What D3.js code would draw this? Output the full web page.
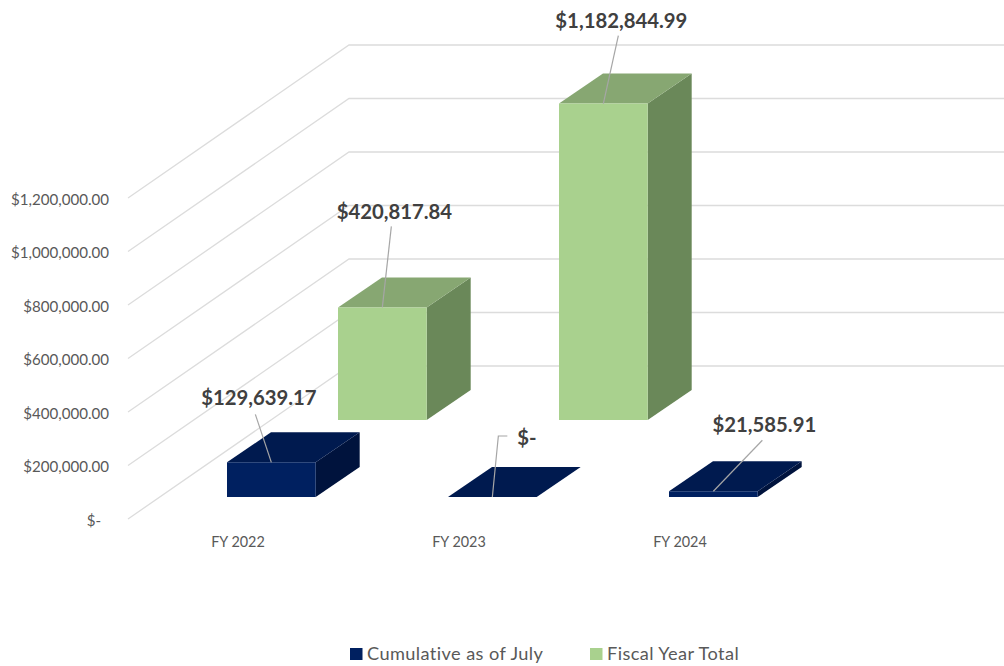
<!DOCTYPE html>
<html><head><meta charset="utf-8">
<script src="https://cdn.jsdelivr.net/npm/d3@7"></script>
<style>html,body{margin:0;padding:0;background:#fff}svg{display:block}text{font-family:Lato,"Open Sans",sans-serif}</style>
</head><body><svg id="c" width="1004" height="666"></svg>
<script>
const categories = ["FY 2022","FY 2023","FY 2024"];
const cumulativeJuly = [129639.17, 0, 21585.91];
const fiscalYearTotal = [420817.84, 1182844.99, null];
const yTicks = [0,200000,400000,600000,800000,1000000,1200000];
const cumulativeLabels = ["$129,639.17","$-","$21,585.91"];
const fiscalLabels = ["$420,817.84","$1,182,844.99",null];
const seriesNames = ["Cumulative as of July","Fiscal Year Total"];

const svg = d3.select("#c");
const y = d3.scaleLinear().domain([0,1200000]).range([519,198]);
const x = d3.scalePoint().domain(categories).range([227,669]);
const wall = {dx:221, dy:-153, right:1004};
const depth = {dx:44, dy:-30};
const barW = 88.7;
const rows = [
  {name:seriesNames[0], values:cumulativeJuly, labels:cumulativeLabels, xOff:0, base:497,
   front:"#002060", top:"#001A4F", side:"#00133D"},
  {name:seriesNames[1], values:fiscalYearTotal, labels:fiscalLabels, xOff:111, base:420,
   front:"#A9D18E", top:"#87A772", side:"#6A8859"}
];

// wall gridlines
const line = d3.line();
svg.append("g").selectAll("path").data(yTicks).join("path")
  .attr("fill","none").attr("stroke","#dcdcdc").attr("stroke-width",1.3)
  .attr("d",t=>line([[128,y(t)],[128+wall.dx,y(t)+wall.dy],[wall.right,y(t)+wall.dy]]));

// value axis
const fmtTick = t => t===0 ? "$-" : "$"+d3.format(",.2f")(t);
const axis = d3.axisLeft(y).tickValues(yTicks).tickFormat(fmtTick).tickSize(0).tickPadding(0);
const ag = svg.append("g").attr("transform","translate(109,0)").call(axis);
ag.select(".domain").remove();
ag.selectAll("text").attr("font-size",15.1).attr("font-family",'Lato,sans-serif').attr("fill","#595959")
  .attr("dx",t=>t===0?-8:0).attr("dy",".42em");

// category labels
svg.append("g").selectAll("text").data(categories).join("text")
  .attr("x",d=>x(d)+11).attr("y",547).attr("text-anchor","middle")
  .attr("font-size",14.4).attr("fill","#595959").text(d=>d);

// bars (back row first)
[rows[1],rows[0]].forEach(r=>{
  const g = svg.append("g");
  categories.forEach((c,i)=>{
    const v = r.values[i];
    if(v===null) return;
    const x0 = x(c)+r.xOff, x1 = x0+barW, b = r.base, h = y(0)-y(v), t = b-h;
    const {dx,dy} = depth;
    g.append("path").attr("fill",r.side).attr("d",line([[x1,b],[x1+dx,b+dy],[x1+dx,t+dy],[x1,t]])+"Z");
    g.append("path").attr("fill",r.top).attr("d",line([[x0,t],[x0+dx,t+dy],[x1+dx,t+dy],[x1,t]])+"Z");
    if(h>0) g.append("path").attr("fill",r.front).attr("d",line([[x0,b],[x1,b],[x1,t],[x0,t]])+"Z");
  });
});

// data label offsets from the bar's front-top centre
const labelPlace = {
  "$129,639.17":{lx:-12.5,ly:-57,anchor:[-16,-48]},
  "$420,817.84":{lx:12,ly:-88,anchor:[9,-81]},
  "$1,182,844.99":{lx:18,ly:-76,anchor:[15,-68]},
  "$-":{lx:34.5,ly:-52,elbow:[[6,-61],[15,-61]]},
  "$21,585.91":{lx:51,ly:-59,anchor:[49,-51]}
};
const lg = svg.append("g");
rows.forEach(r=>{
  categories.forEach((c,i)=>{
    const lab = r.labels[i];
    if(!lab) return;
    const p = labelPlace[lab];
    const cx = x(c)+r.xOff+barW/2, t = r.base-(y(0)-y(r.values[i]));
    const pts = p.elbow ? [[cx,t],...p.elbow.map(e=>[cx+e[0],t+e[1]])] : [[cx,t],[cx+p.anchor[0],t+p.anchor[1]]];
    lg.append("path").attr("fill","none").attr("stroke","#a6a6a6").attr("stroke-width",1.2).attr("d",line(pts));
    lg.append("text").attr("x",cx+p.lx).attr("y",t+p.ly).attr("text-anchor","middle")
      .attr("font-size",20.3).attr("font-weight",700).attr("fill","#404040").text(lab);
  });
});

// legend
const legendX = [350,590];
const leg = svg.append("g").selectAll("g").data(rows).join("g")
  .attr("transform",(d,i)=>`translate(${legendX[i]},648)`);
leg.append("rect").attr("width",12.5).attr("height",12).attr("fill",d=>d.front);
leg.append("text").attr("x",17).attr("y",12).attr("font-size",18.2).attr("letter-spacing",0.4)
  .attr("fill","#595959").text(d=>d.name);
</script></body></html>
